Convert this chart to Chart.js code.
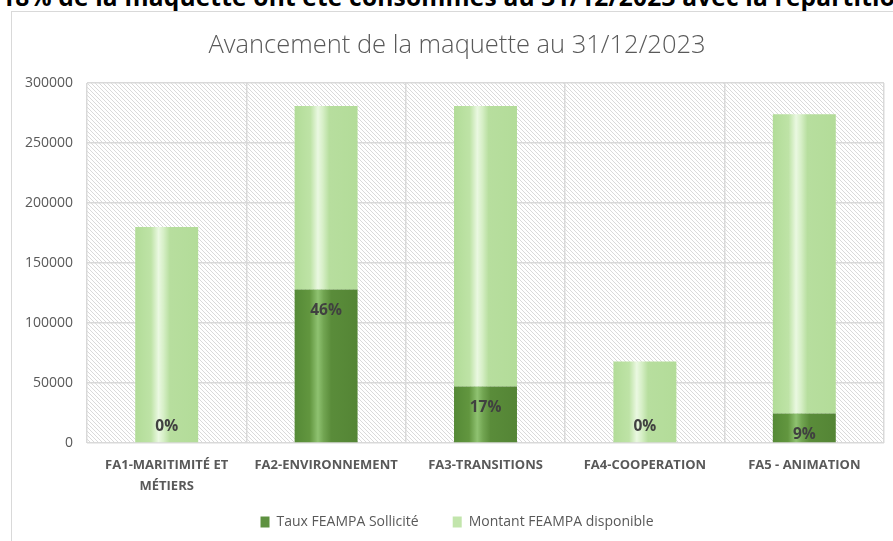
<!DOCTYPE html>
<html>
<head>
<meta charset="utf-8">
<script src="https://cdn.jsdelivr.net/npm/chart.js@4"></script>
<style>
  html, body { margin: 0; padding: 0; background: #fff; overflow: hidden; width: 893px; height: 541px; }
  .headline {
    position: absolute; left: 1px; top: -15.5px; white-space: nowrap; letter-spacing: 0.2px;
    font: bold 24.5px "Open Sans", sans-serif; line-height: 24.5px; color: #000;
  }
  .frame {
    position: absolute; left: 11px; top: 11px; width: 900px; height: 540px;
    border: 1px solid #d9d9d9; background: #fff;
  }
  .box { position: absolute; left: 12px; top: 12px; width: 890px; height: 529px; }
</style>
</head>
<body>
<div class="headline">18% de la maquette ont été consommés au 31/12/2023 avec la répartition</div>
<div class="frame"></div>
<div class="box"><canvas id="maquetteChart"></canvas></div>
<script>
  // valeurs
  const categories = [['FA1-MARITIMITÉ ET', 'MÉTIERS'], 'FA2-ENVIRONNEMENT', 'FA3-TRANSITIONS', 'FA4-COOPERATION', 'FA5 - ANIMATION'];
  const tauxSollicite = [0, 128000, 47000, 0, 24500];
  const montantDisponible = [180000, 153000, 234000, 68000, 249500];
  const yTicks = [0, 50000, 100000, 150000, 200000, 250000, 300000];

  const barRatio = 0.395;

  function barGradient(ctx, stops, fallback) {
    const chart = ctx.chart;
    const area = chart.chartArea;
    const xs = chart.scales.x;
    if (!area || !xs || ctx.dataIndex === undefined) return fallback;
    const w = (area.right - area.left) / categories.length * barRatio;
    const cx = xs.getPixelForValue(ctx.dataIndex);
    const g = chart.ctx.createLinearGradient(cx - w / 2, 0, cx + w / 2, 0);
    stops.forEach(s => g.addColorStop(s[0], s[1]));
    return g;
  }

  const darkStops = [[0, '#558a36'], [0.24, '#62963f'], [0.37, '#8fc271'], [0.46, '#72a552'], [0.58, '#5a8c3a'], [1, '#548535']];
  const lightStops = [[0, '#b2dc98'], [0.25, '#bee3a6'], [0.37, '#eaf8e1'], [0.45, '#d6efc6'], [0.55, '#b7de9e'], [1, '#b3dc99']];

  const hatchPlugin = {
    id: 'hatch',
    beforeDraw(chart) {
      const a = chart.chartArea;
      const c = document.createElement('canvas');
      c.width = 4; c.height = 4;
      const pc = c.getContext('2d');
      pc.fillStyle = '#dadada';
      for (let i = 0; i < 4; i++) pc.fillRect(i, i, 1, 1);
      const ctx = chart.ctx;
      ctx.save();
      ctx.fillStyle = ctx.createPattern(c, 'repeat');
      ctx.fillRect(a.left, a.top, a.right - a.left, a.bottom - a.top);
      ctx.restore();
    }
  };

  // centre le titre et la légende sur toute la largeur du cadre
  const centerPlugin = {
    id: 'centerBoxes',
    afterLayout(chart) {
      if (chart.titleBlock) chart.titleBlock.right = chart.width;
      if (chart.legend) chart.legend.right = chart.width;
    }
  };

  const pctPlugin = {
    id: 'pctLabels',
    afterDatasetsDraw(chart) {
      const ctx = chart.ctx;
      const meta = chart.getDatasetMeta(0);
      ctx.save();
      ctx.font = 'bold 15.5px "Open Sans", sans-serif';
      ctx.fillStyle = '#404040';
      ctx.textAlign = 'center';
      ctx.textBaseline = 'middle';
      meta.data.forEach((el, i) => {
        const total = tauxSollicite[i] + montantDisponible[i];
        const pct = Math.round(tauxSollicite[i] / total * 100) + '%';
        const y = tauxSollicite[i] === 0 ? el.base - 16 : el.y + 21;
        ctx.fillText(pct, el.x, y);
      });
      ctx.restore();
    }
  };

  const ctx = document.getElementById('maquetteChart').getContext('2d');
  new Chart(ctx, {
    type: 'bar',
    data: {
      labels: categories,
      datasets: [
        {
          label: 'Taux FEAMPA Sollicité',
          data: tauxSollicite,
          backgroundColor: c => barGradient(c, darkStops, '#5b8c3c'),
          barPercentage: barRatio,
          categoryPercentage: 1
        },
        {
          label: 'Montant FEAMPA disponible',
          data: montantDisponible,
          backgroundColor: c => barGradient(c, lightStops, '#b5dd9c'),
          barPercentage: barRatio,
          categoryPercentage: 1
        }
      ]
    },
    options: {
      responsive: true,
      maintainAspectRatio: false,
      animation: false,
      layout: { padding: { left: 0, right: 18, top: 0, bottom: 2 } },
      scales: {
        x: {
          stacked: true,
          grid: { offset: true, color: '#d9d9d9', lineWidth: 1.5, drawTicks: false },
          border: { display: false },
          ticks: {
            color: '#595959',
            padding: 12,
            maxRotation: 0,
            autoSkip: false,
            font: { family: 'Open Sans', size: 13, weight: 'bold', lineHeight: 1.6 }
          },
          afterFit: s => { s.height = 52; }
        },
        y: {
          stacked: true,
          min: 0,
          max: 300000,
          afterBuildTicks: s => { s.ticks = yTicks.map(v => ({ value: v })); },
          grid: { color: '#d9d9d9', lineWidth: 1.5, drawTicks: false },
          border: { display: false },
          ticks: {
            color: '#595959',
            padding: 14,
            font: { family: 'Open Sans', size: 14 },
            callback: v => String(v)
          },
          afterFit: s => { s.width = 75; }
        }
      },
      plugins: {
        title: {
          display: true,
          text: 'Avancement de la maquette au 31/12/2023',
          color: '#595959',
          font: { family: 'Open Sans', size: 25.5, weight: 300 },
          padding: { top: 18.5, bottom: 22 }
        },
        legend: {
          position: 'bottom',
          labels: {
            color: '#595959',
            boxWidth: 9,
            boxHeight: 11,
            padding: 20,
            font: { family: 'Open Sans', size: 14 },
            generateLabels: chart => chart.data.datasets.map((d, i) => ({
              text: i === 0 ? d.label + '\u2003' : d.label,
              fillStyle: i === 0 ? '#5e9140' : '#c2e5ac',
              strokeStyle: 'transparent',
              lineWidth: 0,
              datasetIndex: i,
              fontColor: '#595959'
            }))
          }
        },
        tooltip: { enabled: false }
      }
    },
    plugins: [hatchPlugin, centerPlugin, pctPlugin]
  });
</script>
</body>
</html>
